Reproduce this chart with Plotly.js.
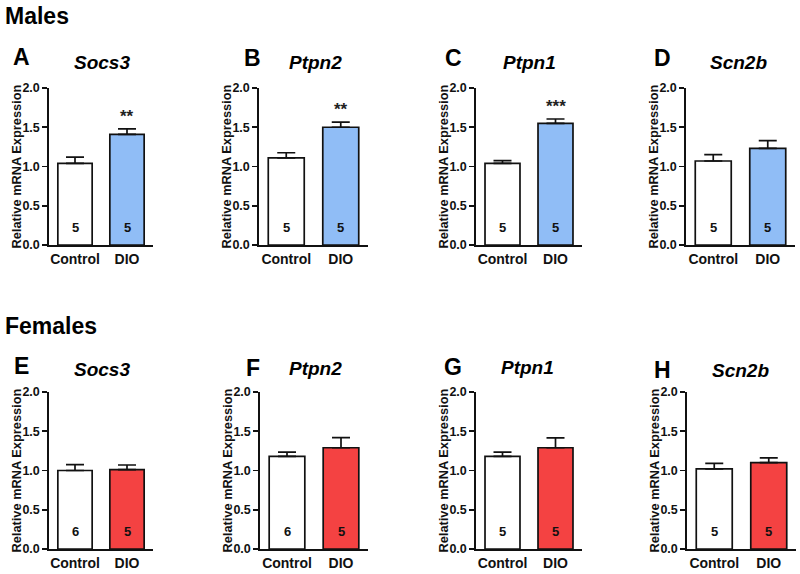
<!DOCTYPE html>
<html>
<head>
<meta charset="utf-8">
<script src="https://cdn.plot.ly/plotly-3.0.1.min.js"></script>
<style>html,body{margin:0;padding:0;background:#fff;}#chart{width:800px;height:574px;}</style>
</head>
<body>
<div id="chart"></div>
<script>
// ---- data ----
var categories = ["Control", "DIO"];
var panelLetters = ["A", "B", "C", "D", "E", "F", "G", "H"];
var genes = ["Socs3", "Ptpn2", "Ptpn1", "Scn2b", "Socs3", "Ptpn2", "Ptpn1", "Scn2b"];
var controlMean = [1.04, 1.11, 1.04, 1.07, 1.00, 1.18, 1.18, 1.02];
var controlSE   = [0.08, 0.065, 0.035, 0.08, 0.075, 0.055, 0.055, 0.07];
var dioMean     = [1.41, 1.50, 1.55, 1.23, 1.01, 1.29, 1.29, 1.10];
var dioSE       = [0.07, 0.065, 0.055, 0.10, 0.06, 0.13, 0.125, 0.06];
var controlN    = ["5", "5", "5", "5", "6", "6", "5", "5"];
var dioN        = ["5", "5", "5", "5", "5", "5", "5", "5"];
var significance = ["**", "**", "***", "", "", "", "", ""];
var groupHeaders = ["Males", "Females"];
var yTicks = [0, 0.5, 1.0, 1.5, 2.0];
var yTickText = ["0.0", "0.5", "1.0", "1.5", "2.0"];

// ---- layout constants ----
var W = 800, H = 574;
var xPix = [[49,153],[259,368],[476,582],[686,795],[49,153],[260,368],[476,582],[687,796]];
var yPix = [[88,245],[88,245],[88,245],[88,245],[392,549],[392,549],[392,549],[392,549]];
var letterPix = [[21,57],[253,58],[453,58],[662,58],[21,366],[253,368],[453,367],[662,370]];
var genePix = [[102,62],[315,62],[529,62],[738,62],[102,369],[315,368],[527,367],[740,370]];
var headerPix = [[37,16],[51,326]];
var dioColors = ["#90BDF6", "#F44242"];
var FONT = "Arial, 'Liberation Sans', Helvetica, sans-serif";

function px2x(p){ return p / W; }
function px2y(p){ return 1 - p / H; }

var traces = [];
var layout = {
  width: W, height: H,
  margin: {l:0, r:0, t:0, b:0},
  paper_bgcolor: "#fff", plot_bgcolor: "rgba(0,0,0,0)",
  showlegend: false,
  font: {family: FONT, color: "#111"},
  annotations: [],
  bargap: 0
};

for (var i = 0; i < 8; i++) {
  var k = i + 1;
  var xa = "x" + (k === 1 ? "" : k), ya = "y" + (k === 1 ? "" : k);
  var xName = "xaxis" + (k === 1 ? "" : k), yName = "yaxis" + (k === 1 ? "" : k);
  var color = i < 4 ? dioColors[0] : dioColors[1];
  traces.push({
    type: "bar",
    x: [0, 1],
    y: [controlMean[i], dioMean[i]],
    width: 0.66,
    xaxis: xa, yaxis: ya,
    marker: {color: ["#ffffff", color], line: {color: "#111", width: 1.7}},
    error_y: {type: "data", symmetric: false, array: [controlSE[i], dioSE[i]], arrayminus: [0, 0],
              color: "#111", thickness: 1.7, width: 9},
    hoverinfo: "skip"
  });
  layout[xName] = {
    domain: [px2x(xPix[i][0]), px2x(xPix[i][1])],
    anchor: ya,
    range: [-0.5, 1.5],
    tickmode: "array", tickvals: [0, 1], ticktext: categories,
    ticks: "", showgrid: false, zeroline: false,
    showline: true, linecolor: "#111", linewidth: 1.7,
    tickfont: {family: FONT, size: 14, weight: "bold", color: "#111"},
    fixedrange: true
  };
  layout[yName] = {
    domain: [px2y(yPix[i][1]), px2y(yPix[i][0])],
    anchor: xa,
    range: [0, 2],
    tickmode: "array", tickvals: yTicks, ticktext: yTickText,
    ticks: "outside", ticklen: 5, tickwidth: 1.7, tickcolor: "#111",
    showgrid: false, zeroline: false,
    showline: true, linecolor: "#111", linewidth: 1.7,
    tickfont: {family: FONT, size: 12.5, weight: "bold", color: "#111"},
    fixedrange: true
  };
  // y axis title
  layout.annotations.push({
    xref: "paper", yref: "paper",
    x: px2x(xPix[i][0] - 33), y: px2y((yPix[i][0] + yPix[i][1]) / 2),
    text: "<b>Relative mRNA Expression</b>", textangle: -90, showarrow: false,
    xanchor: "center", yanchor: "middle",
    font: {family: FONT, size: 12.8, color: "#111"}
  });
  // panel letter
  layout.annotations.push({
    xref: "paper", yref: "paper",
    x: px2x(letterPix[i][0]), y: px2y(letterPix[i][1]),
    text: "<b>" + panelLetters[i] + "</b>", showarrow: false,
    xanchor: "center", yanchor: "middle",
    font: {family: FONT, size: 23, color: "#000"}
  });
  // gene title
  layout.annotations.push({
    xref: "paper", yref: "paper",
    x: px2x(genePix[i][0]), y: px2y(genePix[i][1]),
    text: "<b><i>" + genes[i] + "</i></b>", showarrow: false,
    xanchor: "center", yanchor: "middle",
    font: {family: FONT, size: 19, color: "#000"}
  });
  // n labels
  layout.annotations.push({
    xref: xa, yref: ya, x: 0, y: 0.22, text: "<b>" + controlN[i] + "</b>",
    showarrow: false, xanchor: "center", yanchor: "middle",
    font: {family: FONT, size: 13, color: "#111"}
  });
  layout.annotations.push({
    xref: xa, yref: ya, x: 1, y: 0.22, text: "<b>" + dioN[i] + "</b>",
    showarrow: false, xanchor: "center", yanchor: "middle",
    font: {family: FONT, size: 13, color: "#111"}
  });
  if (significance[i]) {
    layout.annotations.push({
      xref: xa, yref: ya, x: 1, y: dioMean[i] + dioSE[i], text: "<b>" + significance[i] + "</b>",
      showarrow: false, xanchor: "center", yanchor: "bottom", yshift: 1,
      font: {family: FONT, size: 17, color: "#222"}
    });
  }
}
for (var g = 0; g < 2; g++) {
  layout.annotations.push({
    xref: "paper", yref: "paper",
    x: px2x(headerPix[g][0]), y: px2y(headerPix[g][1]),
    text: "<b>" + groupHeaders[g] + "</b>", showarrow: false,
    xanchor: "center", yanchor: "middle",
    font: {family: FONT, size: 23, color: "#000"}
  });
}

Plotly.newPlot("chart", traces, layout, {staticPlot: true, displayModeBar: false});
</script>
</body>
</html>
